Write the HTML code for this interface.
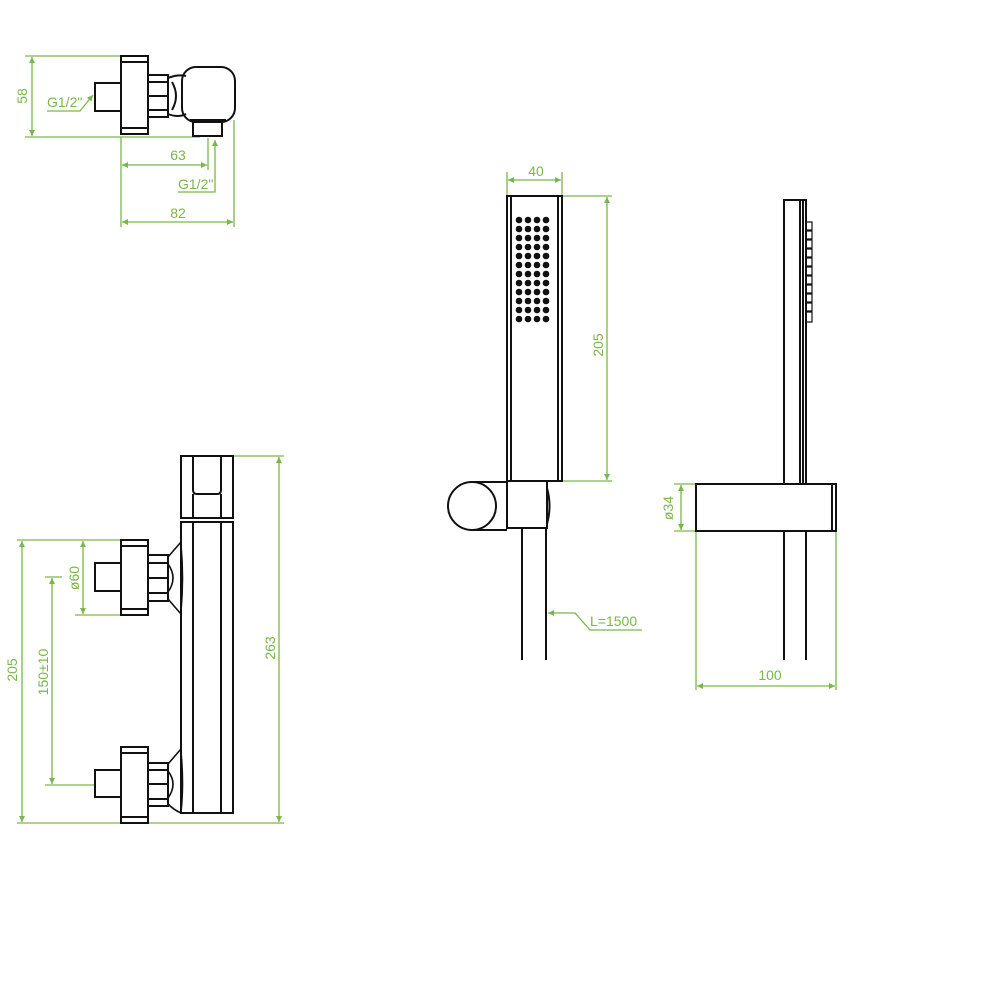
<!DOCTYPE html>
<html><head><meta charset="utf-8"><style>
html,body{margin:0;padding:0;background:#fff;width:1000px;height:1000px;overflow:hidden}
text{font-family:"Liberation Sans",sans-serif;font-size:14px;fill:#7ab648}
</style></head><body>
<svg width="1000" height="1000" viewBox="0 0 1000 1000" xmlns="http://www.w3.org/2000/svg">
<defs>
<marker id="a" viewBox="0 0 10 10" refX="10" refY="5" markerWidth="8" markerHeight="6" orient="auto-start-reverse" markerUnits="userSpaceOnUse"><path d="M0,0L10,5L0,10z" fill="#7ab648"/></marker>
</defs>
<g stroke="#7ab648" stroke-width="1.3" fill="none">
<line x1="25" y1="56" x2="121" y2="56"/>
<line x1="25" y1="137" x2="200" y2="137"/>
<line x1="32" y1="57" x2="32" y2="136" marker-start="url(#a)" marker-end="url(#a)"/>
<line x1="121" y1="137" x2="121" y2="227"/>
<line x1="234" y1="120" x2="234" y2="227"/>
<line x1="208" y1="138" x2="208" y2="170"/>
<line x1="122" y1="165" x2="207" y2="165" marker-start="url(#a)" marker-end="url(#a)"/>
<line x1="122" y1="222" x2="233" y2="222" marker-start="url(#a)" marker-end="url(#a)"/>
<polyline points="178,192 215,192 215,140" marker-end="url(#a)"/>
<polyline points="47,111 80,111 93,95" marker-end="url(#a)"/>
<line x1="233" y1="456" x2="284" y2="456"/>
<line x1="17" y1="823" x2="284" y2="823"/>
<line x1="279" y1="457" x2="279" y2="822" marker-start="url(#a)" marker-end="url(#a)"/>
<line x1="17" y1="540" x2="121" y2="540"/>
<line x1="22" y1="541" x2="22" y2="822" marker-start="url(#a)" marker-end="url(#a)"/>
<line x1="75" y1="615" x2="121" y2="615"/>
<line x1="83" y1="541" x2="83" y2="614" marker-start="url(#a)" marker-end="url(#a)"/>
<line x1="45" y1="577" x2="62" y2="577"/>
<line x1="45" y1="785" x2="95" y2="785"/>
<line x1="52" y1="578" x2="52" y2="784" marker-start="url(#a)" marker-end="url(#a)"/>
<line x1="507" y1="172" x2="507" y2="196"/>
<line x1="562" y1="172" x2="562" y2="196"/>
<line x1="508" y1="180" x2="561" y2="180" marker-start="url(#a)" marker-end="url(#a)"/>
<line x1="562" y1="196" x2="612" y2="196"/>
<line x1="562" y1="481" x2="612" y2="481"/>
<line x1="607" y1="197" x2="607" y2="480" marker-start="url(#a)" marker-end="url(#a)"/>
<polyline points="642,630 590,630 575,613 548,613" marker-end="url(#a)"/>
<line x1="674" y1="484" x2="696" y2="484"/>
<line x1="674" y1="531" x2="696" y2="531"/>
<line x1="681" y1="485" x2="681" y2="530" marker-start="url(#a)" marker-end="url(#a)"/>
<line x1="696" y1="531" x2="696" y2="690"/>
<line x1="836" y1="531" x2="836" y2="690"/>
<line x1="697" y1="686" x2="835" y2="686" marker-start="url(#a)" marker-end="url(#a)"/>
</g>
<g>
<text x="178" y="160" text-anchor="middle">63</text>
<text x="178" y="218" text-anchor="middle">82</text>
<text x="178" y="189">G1/2"</text>
<text x="47" y="107">G1/2"</text>
<text transform="translate(27,96) rotate(-90)" text-anchor="middle">58</text>
<text transform="translate(275,648) rotate(-90)" text-anchor="middle">263</text>
<text transform="translate(17,670) rotate(-90)" text-anchor="middle">205</text>
<text transform="translate(79,578) rotate(-90)" text-anchor="middle">ø60</text>
<text transform="translate(48,672) rotate(-90)" text-anchor="middle">150±10</text>
<text x="536" y="176" text-anchor="middle">40</text>
<text transform="translate(603,345) rotate(-90)" text-anchor="middle">205</text>
<text x="590" y="626">L=1500</text>
<text transform="translate(673,508) rotate(-90)" text-anchor="middle">ø34</text>
<text x="770" y="680" text-anchor="middle">100</text>
</g>
<g stroke="#111" stroke-width="2" fill="none">
<rect x="121" y="56" width="27" height="78"/>
<line x1="121" y1="62" x2="148" y2="62"/><line x1="121" y1="128" x2="148" y2="128"/>
<rect x="95" y="83" width="26" height="28"/>
<rect x="148" y="75" width="20" height="42"/>
<line x1="148" y1="82" x2="168" y2="82"/><line x1="148" y1="96" x2="168" y2="96"/><line x1="148" y1="110" x2="168" y2="110"/>
<path d="M168,78 Q178,74 186,76 M168,114 Q178,118 186,114 M172,82 Q180,96 172,110"/>
<rect x="182" y="67" width="53" height="55" rx="14"/>
<rect x="193" y="122" width="29" height="14"/>
<line x1="190" y1="120" x2="226" y2="120"/>
<rect x="181" y="456" width="52" height="62"/>
<path d="M193,456 V490 Q193,494 197,494 H217 Q221,494 221,490 V456"/>
<line x1="193" y1="494" x2="193" y2="518"/><line x1="221" y1="494" x2="221" y2="518"/>
<rect x="181" y="522" width="52" height="291"/>
<line x1="193" y1="522" x2="193" y2="813"/><line x1="221" y1="522" x2="221" y2="813"/>
<path d="M181,542 Q174,550 168,557 M168,599 Q174,606 181,614 M168,564 Q178,578 168,592 M181,545 Q184,578 181,611" stroke-width="1.6"/>
<path d="M181,749 Q174,757 168,764 M168,804 Q174,810 181,813 M168,771 Q178,784 168,798 M181,752 Q184,784 181,812" stroke-width="1.6"/>
<rect x="121" y="540" width="27" height="75"/>
<line x1="121" y1="546" x2="148" y2="546"/><line x1="121" y1="609" x2="148" y2="609"/>
<rect x="95" y="563" width="26" height="28"/>
<rect x="148" y="555" width="20" height="46"/>
<line x1="148" y1="563" x2="168" y2="563"/><line x1="148" y1="578" x2="168" y2="578"/><line x1="148" y1="593" x2="168" y2="593"/>
<rect x="121" y="747" width="27" height="76"/>
<line x1="121" y1="753" x2="148" y2="753"/><line x1="121" y1="817" x2="148" y2="817"/>
<rect x="95" y="770" width="26" height="27"/>
<rect x="148" y="763" width="20" height="43"/>
<line x1="148" y1="770" x2="168" y2="770"/><line x1="148" y1="784" x2="168" y2="784"/><line x1="148" y1="799" x2="168" y2="799"/>
<rect x="507" y="196" width="55" height="285"/>
<line x1="511" y1="196" x2="511" y2="481"/><line x1="558" y1="196" x2="558" y2="481"/>
<circle cx="472" cy="506" r="24"/>
<line x1="472" y1="482" x2="507" y2="482"/><line x1="472" y1="530" x2="507" y2="530"/>
<rect x="507" y="481" width="40" height="47"/>
<path d="M547,488 Q552,506 547,524"/>
<line x1="522" y1="528" x2="522" y2="660"/><line x1="546" y1="528" x2="546" y2="660"/>
<rect x="784" y="200" width="22" height="284"/>
<line x1="800" y1="200" x2="800" y2="484"/><line x1="803" y1="200" x2="803" y2="484"/>
<rect x="696" y="484" width="140" height="47"/>
<line x1="832" y1="484" x2="832" y2="531"/>
<line x1="784" y1="531" x2="784" y2="660"/><line x1="806" y1="531" x2="806" y2="660"/>
</g>
<g stroke="#111" stroke-width="1.2" fill="none">
<path d="M806,222 h6 v8 h-6 M806,231 h6 v8 h-6 M806,240 h6 v8 h-6 M806,249 h6 v8 h-6 M806,258 h6 v8 h-6 M806,267 h6 v8 h-6 M806,276 h6 v8 h-6 M806,285 h6 v8 h-6 M806,294 h6 v8 h-6 M806,303 h6 v8 h-6 M806,312 h6 v10 h-6"/>
</g>
<g fill="#111">
<circle cx="519" cy="220" r="3.3"/><circle cx="528" cy="220" r="3.3"/><circle cx="537" cy="220" r="3.3"/><circle cx="546" cy="220" r="3.3"/>
<circle cx="519" cy="229" r="3.3"/><circle cx="528" cy="229" r="3.3"/><circle cx="537" cy="229" r="3.3"/><circle cx="546" cy="229" r="3.3"/>
<circle cx="519" cy="238" r="3.3"/><circle cx="528" cy="238" r="3.3"/><circle cx="537" cy="238" r="3.3"/><circle cx="546" cy="238" r="3.3"/>
<circle cx="519" cy="247" r="3.3"/><circle cx="528" cy="247" r="3.3"/><circle cx="537" cy="247" r="3.3"/><circle cx="546" cy="247" r="3.3"/>
<circle cx="519" cy="256" r="3.3"/><circle cx="528" cy="256" r="3.3"/><circle cx="537" cy="256" r="3.3"/><circle cx="546" cy="256" r="3.3"/>
<circle cx="519" cy="265" r="3.3"/><circle cx="528" cy="265" r="3.3"/><circle cx="537" cy="265" r="3.3"/><circle cx="546" cy="265" r="3.3"/>
<circle cx="519" cy="274" r="3.3"/><circle cx="528" cy="274" r="3.3"/><circle cx="537" cy="274" r="3.3"/><circle cx="546" cy="274" r="3.3"/>
<circle cx="519" cy="283" r="3.3"/><circle cx="528" cy="283" r="3.3"/><circle cx="537" cy="283" r="3.3"/><circle cx="546" cy="283" r="3.3"/>
<circle cx="519" cy="292" r="3.3"/><circle cx="528" cy="292" r="3.3"/><circle cx="537" cy="292" r="3.3"/><circle cx="546" cy="292" r="3.3"/>
<circle cx="519" cy="301" r="3.3"/><circle cx="528" cy="301" r="3.3"/><circle cx="537" cy="301" r="3.3"/><circle cx="546" cy="301" r="3.3"/>
<circle cx="519" cy="310" r="3.3"/><circle cx="528" cy="310" r="3.3"/><circle cx="537" cy="310" r="3.3"/><circle cx="546" cy="310" r="3.3"/>
<circle cx="519" cy="319" r="3.3"/><circle cx="528" cy="319" r="3.3"/><circle cx="537" cy="319" r="3.3"/><circle cx="546" cy="319" r="3.3"/>
</g>
</svg>
</body></html>
